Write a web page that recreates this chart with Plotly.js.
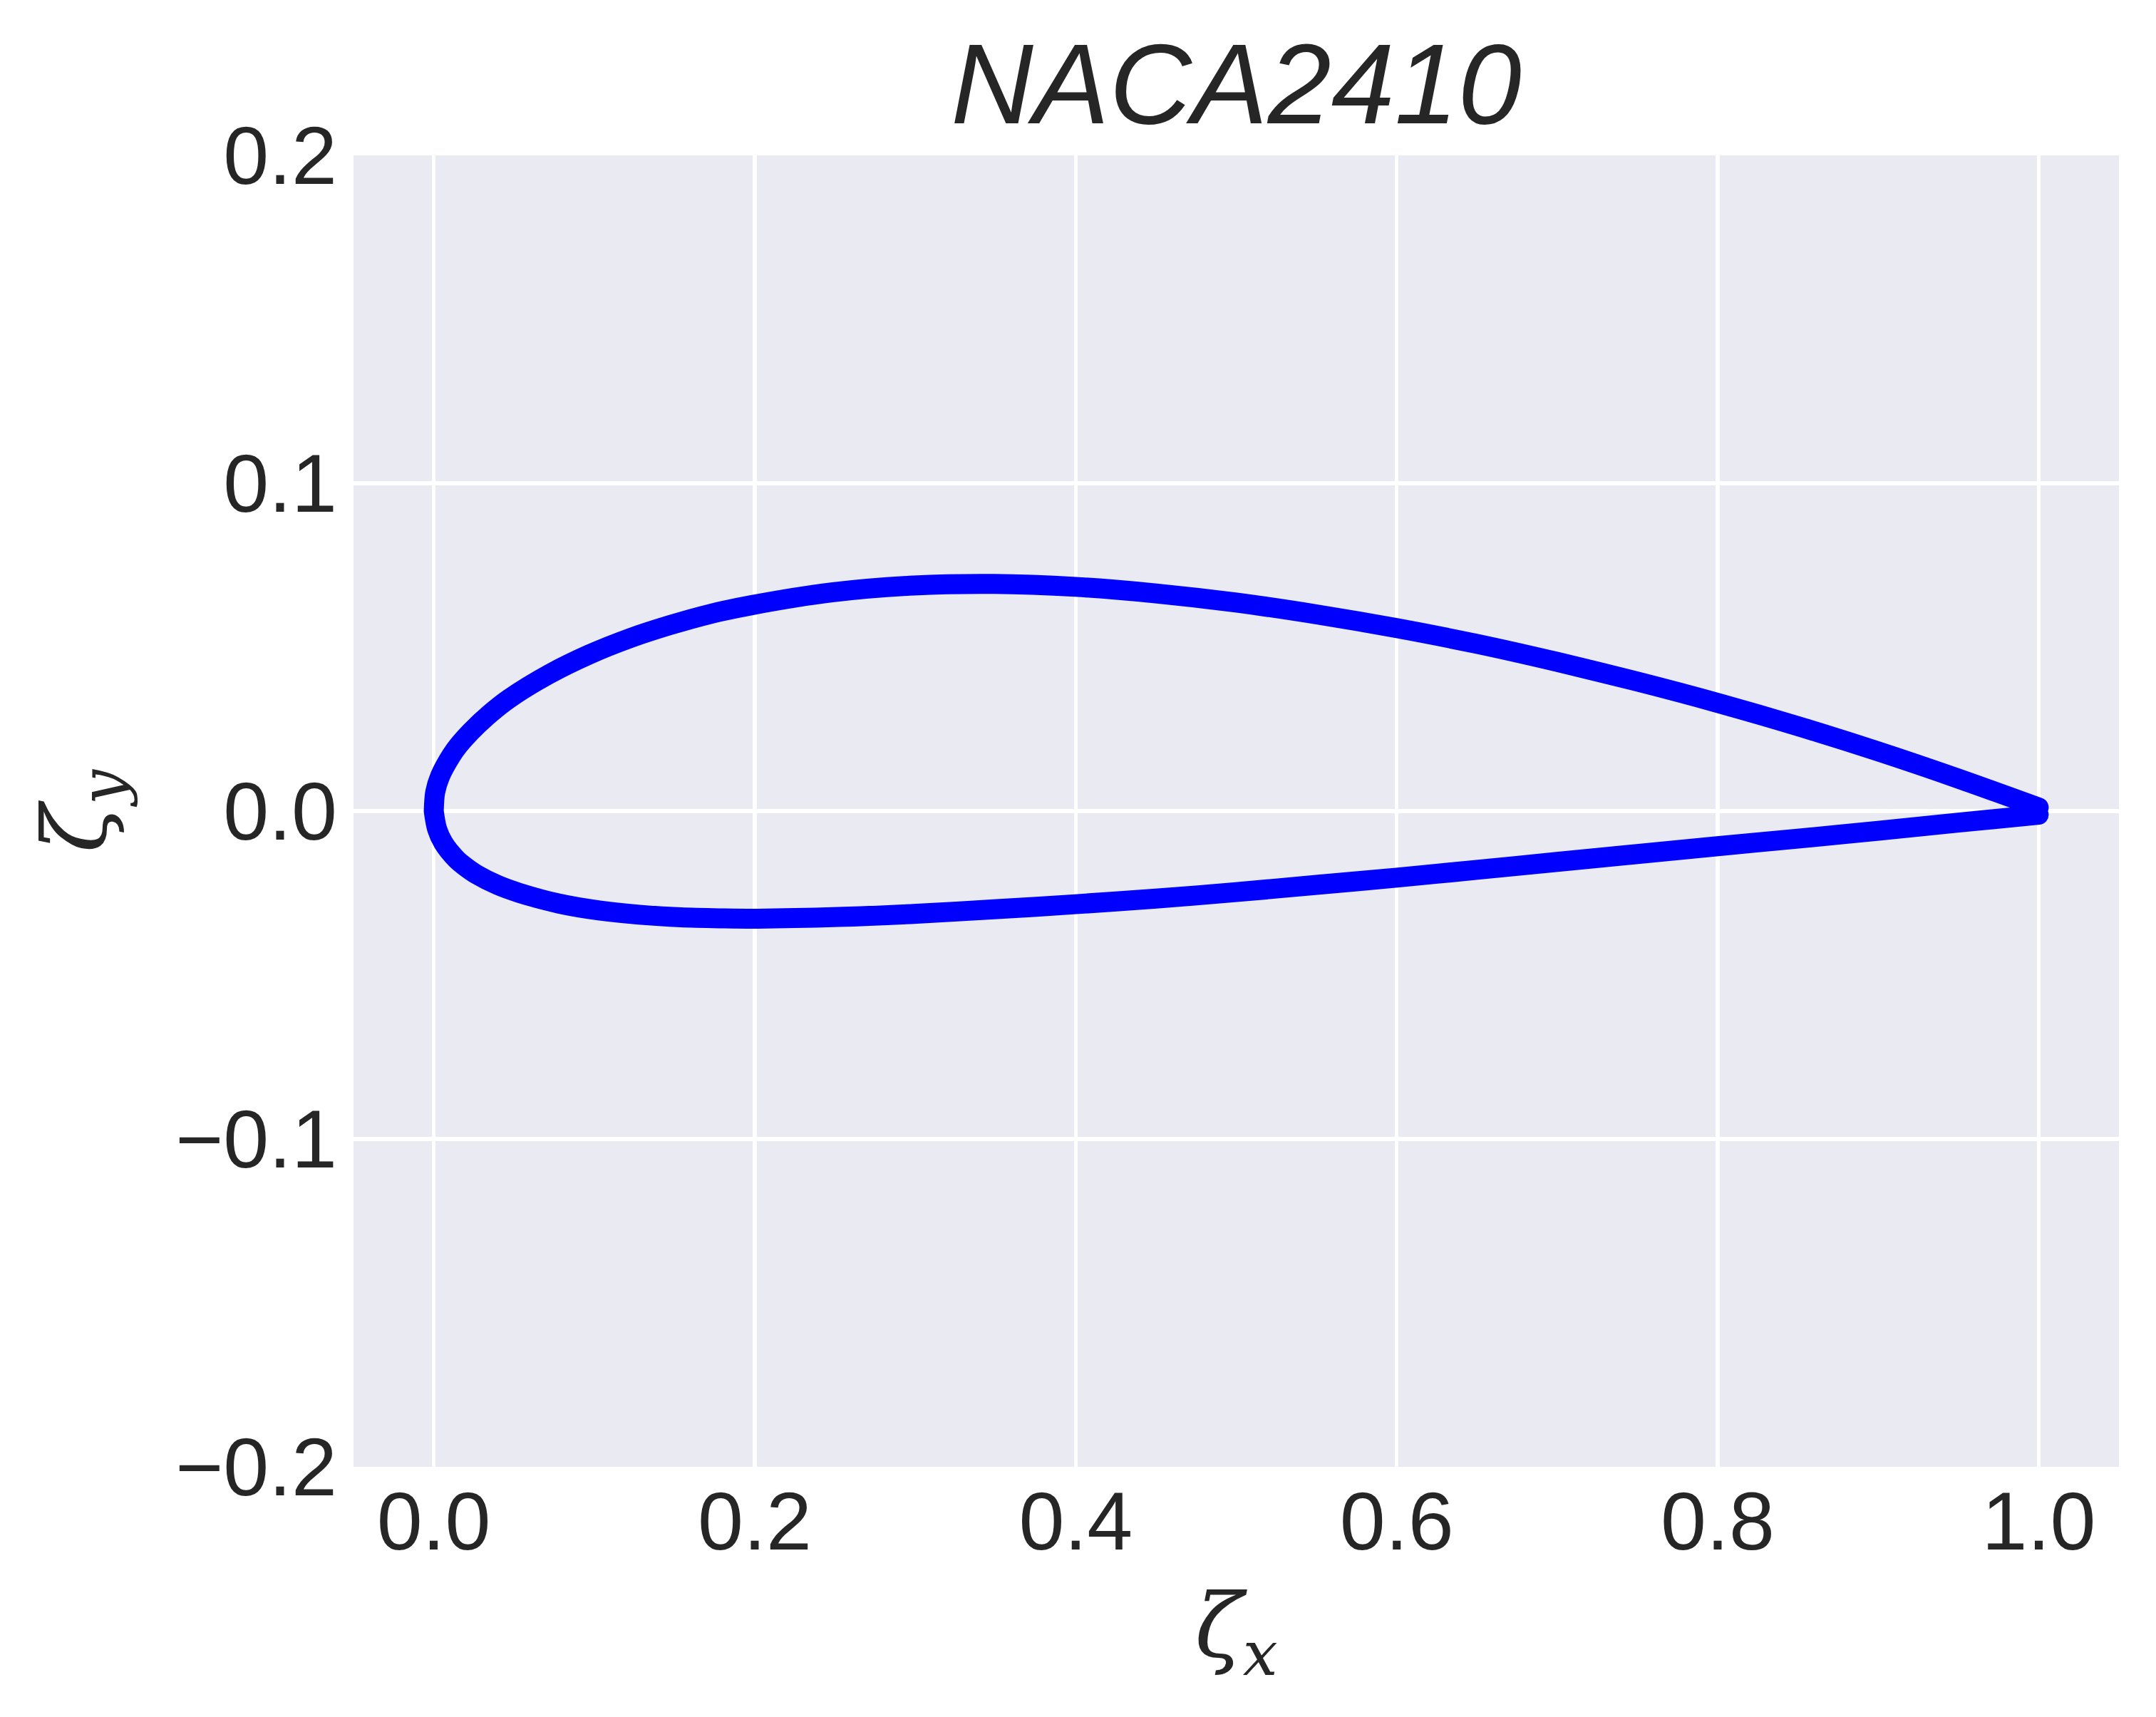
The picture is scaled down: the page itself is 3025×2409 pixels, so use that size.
<!DOCTYPE html>
<html>
<head>
<meta charset="utf-8">
<script src="https://cdn.plot.ly/plotly-3.0.1.min.js"></script>
<style>
  html, body { margin: 0; padding: 0; background: #ffffff; }
  #chart { width: 3025px; height: 2409px; }
  .js-line { stroke-linejoin: round !important; stroke-linecap: round !important; }
</style>
</head>
<body>
<div id="chart"></div>
<script>
// Airfoil contour: upper surface from trailing edge to leading edge
const upperX = [1.000, 0.950, 0.900, 0.850, 0.800, 0.750, 0.700, 0.650, 0.600, 0.550, 0.500, 0.450, 0.400, 0.349, 0.299, 0.248, 0.198, 0.172, 0.147, 0.122, 0.097, 0.072, 0.047, 0.035, 0.023, 0.0157, 0.011, 0.004, 0.0009, 0.000];
const upperY = [0.0011, 0.0099, 0.0182, 0.0259, 0.0330, 0.0395, 0.0455, 0.0510, 0.0558, 0.0600, 0.0636, 0.0664, 0.0684, 0.0693, 0.0688, 0.0667, 0.0628, 0.0601, 0.0567, 0.0527, 0.0478, 0.0418, 0.0343, 0.0297, 0.0242, 0.0202, 0.0170, 0.0107, 0.0058, 0.0000];
// lower surface from leading edge to trailing edge
const lowerX = [0.000, 0.0021, 0.006, 0.014, 0.0193, 0.027, 0.040, 0.053, 0.078, 0.103, 0.128, 0.154, 0.179, 0.202, 0.252, 0.301, 0.351, 0.400, 0.450, 0.500, 0.550, 0.600, 0.650, 0.700, 0.750, 0.800, 0.850, 0.900, 0.950, 1.000];
const lowerY = [0.0000, -0.0055, -0.0097, -0.0146, -0.0168, -0.0194, -0.0226, -0.0249, -0.0282, -0.0303, -0.0316, -0.0324, -0.0327, -0.0328, -0.0323, -0.0313, -0.0299, -0.0284, -0.0267, -0.0247, -0.0225, -0.0203, -0.0179, -0.0155, -0.0131, -0.0107, -0.0084, -0.0060, -0.0035, -0.0011];

const xTickVals = [0.0, 0.2, 0.4, 0.6, 0.8, 1.0];
const xTickText = ["0.0", "0.2", "0.4", "0.6", "0.8", "1.0"];
const yTickVals = [-0.2, -0.1, 0.0, 0.1, 0.2];
const yTickText = ["\u22120.2", "\u22120.1", "0.0", "0.1", "0.2"];

const chartTitle = "NACA2410";

const sansFont = "'Liberation Sans', Arial, sans-serif";
const serifFont = "'DejaVu Serif', 'Liberation Serif', serif";
const textColor = "#262626";

const trace = {
  type: "scatter",
  mode: "lines",
  x: upperX.concat(lowerX),
  y: upperY.concat(lowerY),
  line: { color: "#0000ff", width: 28, shape: "spline", smoothing: 0.9 },
  hoverinfo: "skip",
  showlegend: false
};

const axisCommon = {
  showgrid: true,
  gridcolor: "#ffffff",
  gridwidth: 5.5,
  zeroline: false,
  showline: false,
  ticks: "",
  tickmode: "array",
  tickfont: { family: sansFont, size: 115, color: textColor },
  automargin: false
};

const layout = {
  width: 3025,
  height: 2409,
  margin: { l: 496, r: 52, t: 218, b: 351, pad: 0 },
  paper_bgcolor: "#ffffff",
  plot_bgcolor: "#EAEAF2",
  showlegend: false,
  title: {
    text: "<i>" + chartTitle + "</i>",
    font: { family: sansFont, size: 160, color: textColor },
    x: 0.5, xref: "paper", xanchor: "center",
    y: 1, yref: "paper", yanchor: "bottom",
    pad: { b: 45 }
  },
  xaxis: Object.assign({}, axisCommon, {
    range: [-0.05, 1.05],
    tickvals: xTickVals,
    ticktext: xTickText,
    ticklabelstandoff: 0,
    title: {
      text: "<i>\u03b6</i><sub><i>x</i></sub>",
      font: { family: serifFont, size: 124, color: textColor },
      standoff: 40
    }
  }),
  yaxis: Object.assign({}, axisCommon, {
    range: [-0.2, 0.2],
    tickvals: yTickVals,
    ticktext: yTickText,
    ticklabelstandoff: 22,
    title: {
      text: "<i>\u03b6</i><sub><i>y</i></sub>",
      font: { family: serifFont, size: 124, color: textColor },
      standoff: 55
    }
  })
};

Plotly.newPlot("chart", [trace], layout, { staticPlot: true, displayModeBar: false });
</script>
</body>
</html>
